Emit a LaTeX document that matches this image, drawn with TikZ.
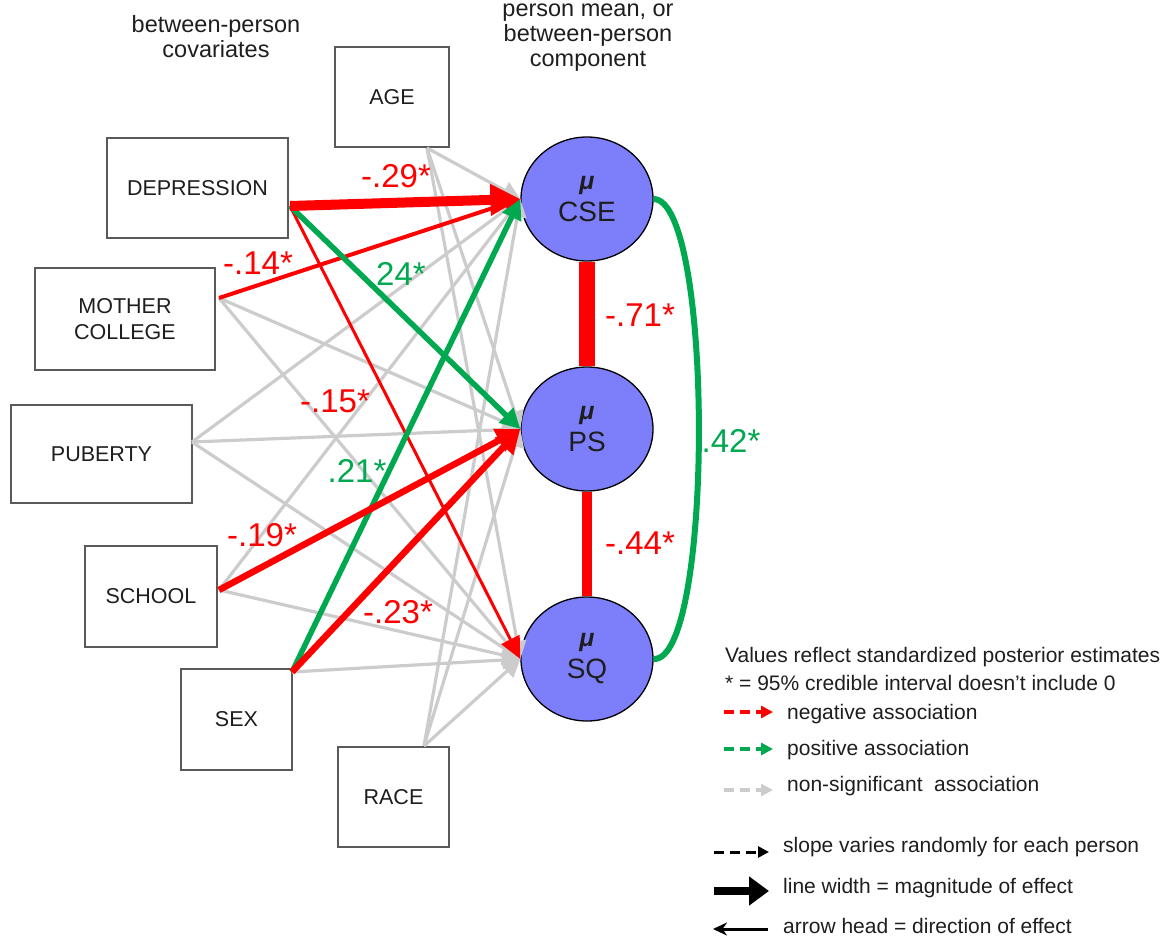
\documentclass[tikz,border=0pt]{standalone}
\usepackage{fontspec}
\setmainfont{Liberation Sans}
\usetikzlibrary{arrows.meta,shapes.geometric}
\definecolor{cred}{RGB}{255,0,0}
\definecolor{cgreen}{RGB}{0,168,80}
\definecolor{cgray}{RGB}{204,204,204}
\definecolor{cfill}{RGB}{124,126,250}
\definecolor{cbox}{RGB}{90,90,90}
\definecolor{ctext}{RGB}{30,30,30}
\begin{document}
\begin{tikzpicture}[x=1pt,y=-1pt,
  cov/.style={draw=cbox, line width=2.8pt, fill=white, inner sep=0pt, text=ctext,
    font=\fontsize{21.5}{26}\selectfont, align=center},
  lat/.style={ellipse, draw=black, line width=1.3pt, fill=cfill, inner sep=0pt,
    minimum width=132pt, minimum height=124pt, align=center, text=ctext,
    font=\fontsize{28}{32}\selectfont},
  caption/.style={font=\fontsize{23.5}{25}\selectfont, align=center, text=ctext},
  lbl/.style={font=\fontsize{33}{36}\selectfont, inner sep=0pt},
  leg/.style={font=\fontsize{21}{24}\selectfont, anchor=west, inner sep=0pt, text=ctext},
  gar/.style={cgray, line width=3.2pt, -{Triangle[length=18pt,width=18pt]}},
  redA/.style={cred, line width=10pt, -{Triangle[length=30pt,width=30pt]}},
  redB/.style={cred, line width=6.5pt, -{Triangle[length=24pt,width=24pt]}},
  redC/.style={cred, line width=4pt, -{Triangle[length=16pt,width=16pt]}},
  redD/.style={cred, line width=3pt, -{Triangle[length=22pt,width=20pt]}},
  grnA/.style={cgreen, line width=5.5pt, -{Triangle[length=20pt,width=20pt]}},
]
\useasboundingbox (0,0) rectangle (1176,937);

% captions
\node[caption] (capL) at (216,37) {between-person\\covariates};
\node[caption] (capR) at (588,38) {person mean, or\\between-person\\component};

% covariate boxes
\node[cov, minimum width=114pt, minimum height=100pt] (age) at (392,97) {AGE};
\node[cov, minimum width=181pt, minimum height=100pt] (dep) at (197.5,188) {DEPRESSION};
\node[cov, minimum width=180pt, minimum height=102pt] (mom) at (125,319) {MOTHER\\COLLEGE};
\node[cov, minimum width=181pt, minimum height=98pt] (pub) at (101.5,454) {PUBERTY};
\node[cov, minimum width=132pt, minimum height=101pt] (sch) at (151,596.5) {SCHOOL};
\node[cov, minimum width=111pt, minimum height=101pt] (sex) at (236.5,719.5) {SEX};
\node[cov, minimum width=111pt, minimum height=100pt] (race) at (393.5,797) {RACE};

% latent nodes
\node[lat] (cse) at (587,199) {{\fontsize{25}{32}\selectfont\bfseries\itshape μ}\\CSE};
\node[lat] (ps) at (587,429) {{\fontsize{25}{32}\selectfont\bfseries\itshape μ}\\PS};
\node[lat] (sq) at (587,659) {{\fontsize{25}{32}\selectfont\bfseries\itshape μ}\\SQ};

% source points
\coordinate (sAge) at (427,148);
\coordinate (sDep) at (290,206);
\coordinate (sMom) at (219,298);
\coordinate (sPub) at (192,442);
\coordinate (sSch) at (219,590);
\coordinate (sSex) at (292,672);
\coordinate (sRace) at (424,746);

% non-significant paths
\draw[gar] (sAge) -- (cse.west);
\draw[gar] (sAge) -- (ps.west);
\draw[gar] (sAge) -- (sq.west);
\draw[gar] (sMom) -- (ps.west);
\draw[gar] (sMom) -- (sq.west);
\draw[gar] (sPub) -- (cse.west);
\draw[gar] (sPub) -- (ps.west);
\draw[gar] (sPub) -- (sq.west);
\draw[gar] (sSch) -- (cse.west);
\draw[gar] (sSch) -- (sq.west);
\draw[gar] (sSex) -- (sq.west);
\draw[gar] (sRace) -- (cse.west);
\draw[gar] (sRace) -- (ps.west);
\draw[gar] (sRace) -- (sq.west);

% significant paths
\draw[redD] (sDep) -- (sq.west);
\draw[redC] (sMom) -- (cse.west);
\draw[grnA] (sDep) -- (ps.west);
\draw[grnA] (sSex) -- (cse.west);
\draw[redB] (sSch) -- (ps.west);
\draw[redB] (sSex) -- (ps.west);
\draw[redA] (sDep) -- (cse.west);

% correlations
\draw[cred, line width=16pt] (cse.south) -- (ps.north);
\draw[cred, line width=10pt] (ps.south) -- (sq.north);
\draw[cgreen, line width=6pt] (cse.east) .. controls (714,200) and (714,662) .. (sq.east);

% path labels
\node[lbl, text=cred] (l29) at (396,176) {-.29*};
\node[lbl, text=cgreen] (l24) at (401,274) {24*};
\node[lbl, text=cred] (l14) at (258,263) {-.14*};
\node[lbl, text=cred] (l15) at (335,401) {-.15*};
\node[lbl, text=cgreen] (l21) at (357,471) {.21*};
\node[lbl, text=cred] (l19) at (262,535) {-.19*};
\node[lbl, text=cred] (l23) at (398,612) {-.23*};
\node[lbl, text=cred] (l71) at (640,315) {-.71*};
\node[lbl, text=cred] (l44) at (640,543) {-.44*};
\node[lbl, text=cgreen] (l42) at (731,441) {.42*};

% legend
\node[leg] (v1) at (725,657) {Values reflect standardized posterior estimates};
\node[leg] (v2) at (725,683) {* = 95\% credible interval doesn't include 0};
\coordinate (nA) at (724,712); \coordinate (nB) at (773,712);
\coordinate (pA) at (724,749); \coordinate (pB) at (773,749);
\coordinate (gA) at (724,790); \coordinate (gB) at (773,790);
\draw[cred, line width=3.5pt, dash pattern=on 10pt off 6pt, -{Triangle[length=12pt,width=12pt]}] (nA) -- (nB);
\draw[cgreen, line width=3.5pt, dash pattern=on 10pt off 6pt, -{Triangle[length=12pt,width=12pt]}] (pA) -- (pB);
\draw[cgray, line width=3.5pt, dash pattern=on 10pt off 6pt, -{Triangle[length=12pt,width=12pt]}] (gA) -- (gB);
\node[leg] (t1) at (787,714) {negative association};
\node[leg] (t2) at (787,750) {positive association};
\node[leg] (t3) at (787,786) {non-significant~~association};
\coordinate (bA) at (714,852); \coordinate (bB) at (769,852);
\coordinate (cA) at (714,891); \coordinate (cB) at (769,891);
\coordinate (dA) at (768,929); \coordinate (dB) at (713,929);
\draw[black, line width=3pt, dash pattern=on 10pt off 6pt, -{Triangle[length=11pt,width=11pt]}] (bA) -- (bB);
\draw[black, line width=8pt, -{Triangle[length=20pt,width=28pt]}] (cA) -- (cB);
\draw[black, line width=3pt, -{Stealth[length=14pt,width=13pt]}] (dA) -- (dB);
\node[leg] (t4) at (783,847) {slope varies randomly for each person};
\node[leg] (t5) at (783,888) {line width = magnitude of effect};
\node[leg] (t6) at (783,926) {arrow head = direction of effect};
\end{tikzpicture}
\end{document}
